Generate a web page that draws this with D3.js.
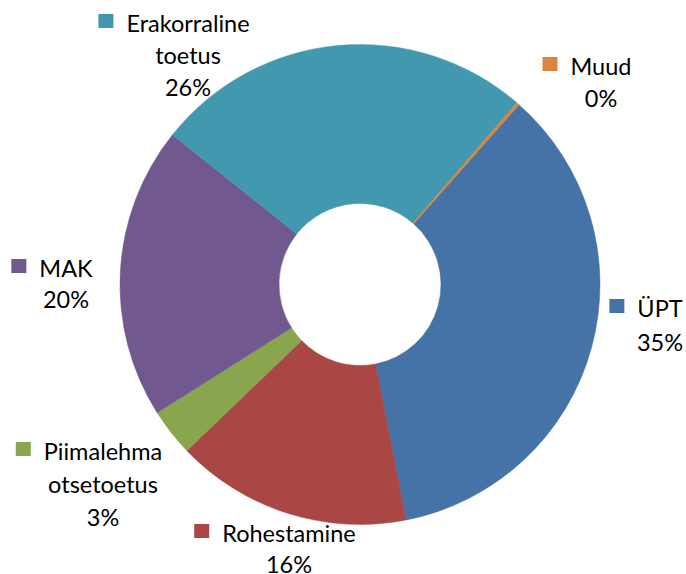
<!DOCTYPE html>
<html>
<head>
<meta charset="utf-8">
<script src="https://cdn.jsdelivr.net/npm/d3@7"></script>
<style>
  body { margin: 0; background: #fff; }
  svg { display: block; }
</style>
</head>
<body>
<div id="chart"></div>
<script>
// slices, clockwise from the start angle
const categories = ["ÜPT", "Rohestamine", "Piimalehma otsetoetus", "MAK", "Erakorraline toetus", "Muud"];
const values = [35.4, 15.9, 3.2, 19.7, 25.6, 0.2];
const colors = ["#4572A7", "#AA4643", "#89A54E", "#71588F", "#4198AF", "#DB843D"];

// label lines (Excel wraps the long names)
const labelLines = [["ÜPT"], ["Rohestamine"], ["Piimalehma", "otsetoetus"], ["MAK"], ["Erakorraline", "toetus"], ["Muud"]];

const width = 686, height = 574;
const cx = 360, cy = 284.5;
const outerR = 240, innerR = 81;
const startDeg = 41.5;

// where each data label sits: center x of text, baseline of first line
const labelPos = [
    {x: 660, y: 317, lh: 34},
    {x: 289, y: 542, lh: 31},
    {x: 103, y: 460, lh: 33},
    {x: 66, y: 277, lh: 31},
    {x: 188, y: 32, lh: 32},
    {x: 601, y: 75, lh: 32}
];

const svg = d3.select("#chart").append("svg")
    .attr("width", width)
    .attr("height", height);

const data = categories.map((c, i) => ({name: c, value: values[i], color: colors[i], lines: labelLines[i], pos: labelPos[i]}));
const total = d3.sum(values);

const pie = d3.pie()
    .sort(null)
    .value(d => d.value)
    .startAngle(startDeg * Math.PI / 180)
    .endAngle(startDeg * Math.PI / 180 + 2 * Math.PI);

const arc = d3.arc()
    .innerRadius(innerR)
    .outerRadius(outerR);

const chartArea = svg.append("g")
    .attr("transform", `translate(${cx},${cy})`);

chartArea.selectAll("path")
    .data(pie(data))
    .enter()
    .append("path")
    .attr("d", arc)
    .attr("fill", d => d.data.color)
    .attr("stroke", d => d.data.color)
    .attr("stroke-width", 0.5);

// data labels with legend keys
const fontSize = 23.5;
const labels = svg.selectAll("g.label")
    .data(data)
    .enter()
    .append("g")
    .attr("class", "label")
    .attr("font-family", "Lato, 'Open Sans', sans-serif")
    .attr("font-size", fontSize)
    .attr("fill", "#000");

labels.each(function(d) {
    let g = d3.select(this);
    let lines = d.lines.concat([Math.round(d.value / total * 100) + "%"]);
    lines.forEach((t, i) => {
        g.append("text")
            .attr("x", d.pos.x)
            .attr("y", d.pos.y + i * d.pos.lh)
            .attr("text-anchor", "middle")
            .text(t);
    });
    // key square to the left of the first line
    let first = g.select("text").node();
    let w = first.getComputedTextLength();
    g.append("rect")
        .attr("x", d.pos.x - w / 2 - 28)
        .attr("y", d.pos.y - 18)
        .attr("width", 15)
        .attr("height", 14)
        .attr("fill", d.color);
});
</script>
</body>
</html>
